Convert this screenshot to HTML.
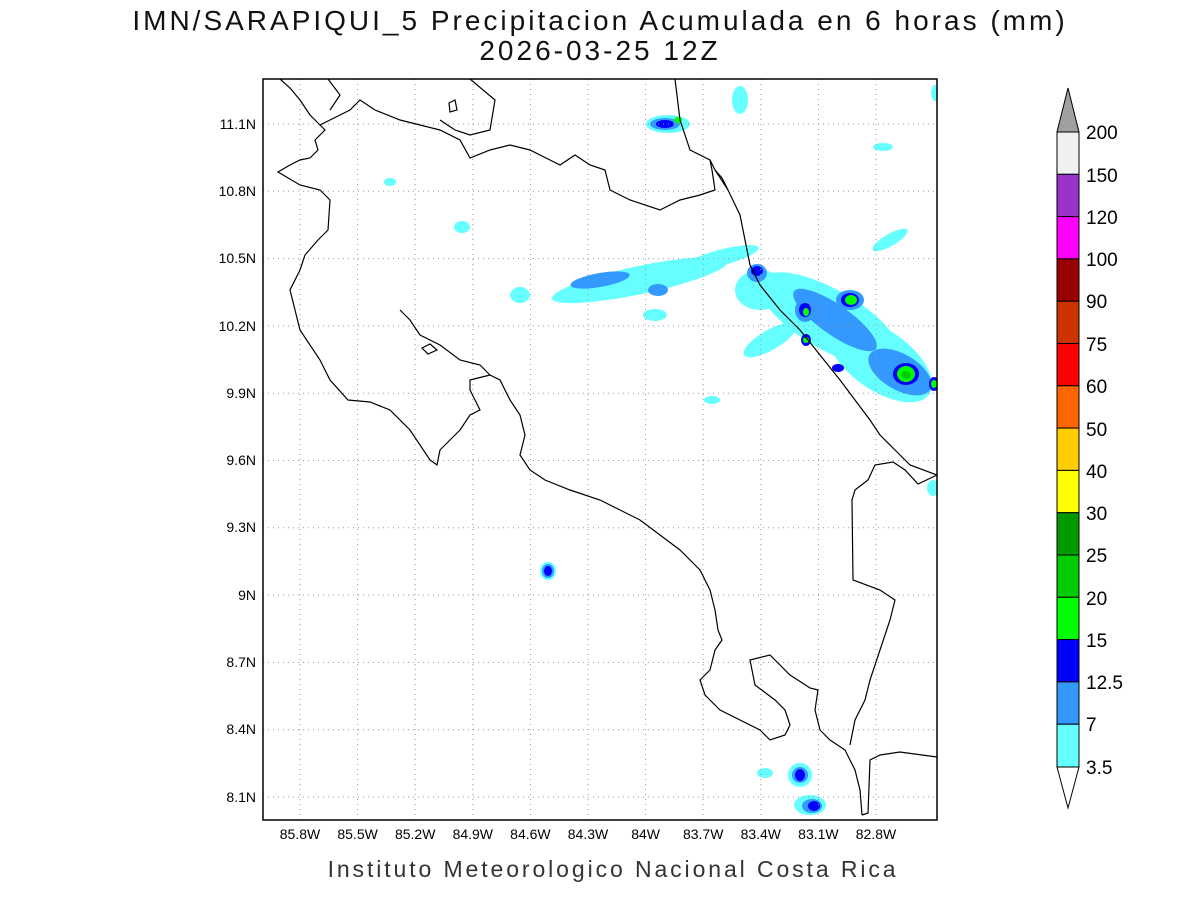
<!DOCTYPE html>
<html><head><meta charset="utf-8"><style>
body{margin:0;background:#fff}
svg text{font-family:"Liberation Sans",sans-serif}
</style></head><body>
<svg width="1200" height="900" viewBox="0 0 1200 900" xmlns="http://www.w3.org/2000/svg">
<rect width="1200" height="900" fill="#fff"/>
<text x="600" y="30" font-size="28" text-anchor="middle" letter-spacing="3" fill="#111">IMN/SARAPIQUI_5 Precipitacion Acumulada en 6 horas (mm)</text>
<text x="600" y="60" font-size="28" text-anchor="middle" letter-spacing="3" fill="#111">2026-03-25 12Z</text>
<defs><clipPath id="c"><rect x="263" y="79" width="674" height="741"/></clipPath></defs>
<g clip-path="url(#c)">
<g fill="#66ffff">
<ellipse cx="640" cy="280" rx="90" ry="14" transform="rotate(-12 640 280)"/>
<ellipse cx="720" cy="258" rx="40" ry="8" transform="rotate(-15 720 258)"/>
<ellipse cx="668" cy="124" rx="22" ry="9"/>
<ellipse cx="740" cy="100" rx="8" ry="14"/>
<ellipse cx="830" cy="320" rx="80" ry="30" transform="rotate(30 830 320)"/>
<ellipse cx="880" cy="360" rx="60" ry="30" transform="rotate(35 880 360)"/>
<ellipse cx="760" cy="290" rx="25" ry="20"/>
<ellipse cx="770" cy="340" rx="30" ry="10" transform="rotate(-30 770 340)"/>
<ellipse cx="890" cy="240" rx="20" ry="6" transform="rotate(-30 890 240)"/>
<ellipse cx="655" cy="315" rx="12" ry="6"/>
<ellipse cx="520" cy="295" rx="10" ry="8"/>
<ellipse cx="548" cy="571" rx="8" ry="9"/>
<ellipse cx="800" cy="775" rx="12" ry="12"/>
<ellipse cx="810" cy="805" rx="16" ry="10"/>
<ellipse cx="765" cy="773" rx="8" ry="5"/>
<ellipse cx="933" cy="488" rx="6" ry="8"/>
<ellipse cx="462" cy="227" rx="8" ry="6"/>
<ellipse cx="883" cy="147" rx="10" ry="4"/>
<ellipse cx="712" cy="400" rx="8" ry="4"/>
<ellipse cx="935" cy="93" rx="4" ry="8"/>
<ellipse cx="390" cy="182" rx="6" ry="4"/>
</g>
<g fill="#3399ff">
<ellipse cx="600" cy="280" rx="30" ry="7" transform="rotate(-10 600 280)"/>
<ellipse cx="665" cy="124" rx="15" ry="6"/>
<ellipse cx="757" cy="273" rx="10" ry="9"/>
<ellipse cx="835" cy="320" rx="50" ry="15" transform="rotate(35 835 320)"/>
<ellipse cx="900" cy="372" rx="35" ry="18" transform="rotate(30 900 372)"/>
<ellipse cx="805" cy="310" rx="10" ry="12"/>
<ellipse cx="850" cy="300" rx="14" ry="10"/>
<ellipse cx="548" cy="571" rx="6" ry="7"/>
<ellipse cx="800" cy="775" rx="8" ry="8"/>
<ellipse cx="812" cy="806" rx="10" ry="7"/>
<ellipse cx="658" cy="290" rx="10" ry="6"/>
</g>
<g fill="#0000ff">
<ellipse cx="665" cy="124" rx="9" ry="4"/>
<ellipse cx="757" cy="271" rx="6" ry="5"/>
<ellipse cx="805" cy="310" rx="6" ry="7"/>
<ellipse cx="850" cy="300" rx="9" ry="7"/>
<ellipse cx="806" cy="340" rx="5" ry="6"/>
<ellipse cx="906" cy="374" rx="13" ry="11"/>
<ellipse cx="934" cy="384" rx="5" ry="7"/>
<ellipse cx="838" cy="368" rx="6" ry="4"/>
<ellipse cx="548" cy="571" rx="4" ry="5"/>
<ellipse cx="800" cy="775" rx="5" ry="6"/>
<ellipse cx="814" cy="806" rx="6" ry="5"/>
</g>
<g fill="#00ff00">
<ellipse cx="678" cy="120" rx="4" ry="3"/>
<ellipse cx="851" cy="300" rx="6" ry="5"/>
<ellipse cx="806" cy="312" rx="3" ry="4"/>
<ellipse cx="906" cy="374" rx="9" ry="8"/>
<ellipse cx="806" cy="340" rx="3" ry="3"/>
<ellipse cx="934" cy="384" rx="3" ry="4"/>
</g>
<g fill="#00cc00"><ellipse cx="906" cy="375" rx="5" ry="4"/></g>
<g stroke="#999" stroke-width="1" stroke-dasharray="1,4">
<path d="M300,79V820M357.6,79V820M415.2,79V820M472.8,79V820M530.4,79V820M588,79V820M645.6,79V820M703.2,79V820M760.8,79V820M818.4,79V820M876,79V820"/>
<path d="M263,124H937M263,191.3H937M263,258.6H937M263,325.9H937M263,393.2H937M263,460.5H937M263,527.8H937M263,595.1H937M263,662.4H937M263,729.7H937M263,797H937"/>
</g>
<g fill="none" stroke="#000" stroke-width="1.2">
<path d="M280,79L290,88L300,100L310,115L320,125L325,130L320,135L315,140L318,150L310,158L300,160L290,165L278,172L300,185L320,190L330,200L328,230L318,240L305,255L300,270L290,290L295,310L300,330L320,360L330,380L348,400L370,402L390,410L410,430L430,460L437,465L440,450L460,430L470,415L480,410L470,390L470,380L490,375L480,365L460,360L440,345L420,335L410,320L400,310"/>
<path d="M490,375L500,380L510,400L520,415L525,435L520,455L530,470L545,480L570,490L600,500L620,510L640,520L660,535L680,550L700,570L710,590L715,610L718,630L722,640L715,650L710,670L700,680L705,695L720,710L740,720L760,730L770,740L785,735L790,725L785,710L775,700L755,685L750,660L770,655L790,675L810,688L818,690L815,710L820,730L830,740L845,750L855,770L860,790L862,815"/>
<path d="M862,815L868,813L870,760L880,755L900,752L937,757"/>
<path d="M937,475L918,484L905,470L893,462L875,465L868,480L855,490L852,500L853,580L880,590L895,600L890,620L880,650L870,680L865,700L855,720L850,745"/>
<path d="M675,79L680,120L690,150L710,160L715,170L728,190L740,215L745,240L750,265L760,285L780,310L800,330L820,355L840,380L855,400L870,420L880,435L895,450L910,465L937,475"/>
<path d="M320,125L330,120L350,110L360,100L375,110L400,120L420,125L440,130L460,140L470,158L490,150L510,145L530,150L550,160L560,165L575,155L590,165L605,170L610,190L630,200L660,210L680,200L700,195L715,190L712,170L710,160"/>
<path d="M328,79L340,95L330,110"/>
<path d="M470,79L495,100L490,130L470,135L455,130L440,120"/>
<path d="M715,170L722,178L728,190"/>
<path d="M449,103L455,100L457,110L450,112Z"/>
<path d="M422,348L430,344L437,350L428,354Z"/>
</g>
</g>
<rect x="263" y="79" width="674" height="741" fill="none" stroke="#000" stroke-width="1.5"/>
<g font-size="14" fill="#000" text-anchor="end">
<text x="256" y="129">11.1N</text><text x="256" y="196">10.8N</text><text x="256" y="263">10.5N</text><text x="256" y="331">10.2N</text><text x="256" y="398">9.9N</text><text x="256" y="465">9.6N</text><text x="256" y="532">9.3N</text><text x="256" y="600">9N</text><text x="256" y="667">8.7N</text><text x="256" y="734">8.4N</text><text x="256" y="802">8.1N</text>
</g>
<g font-size="14" fill="#000" text-anchor="middle">
<text x="300" y="839">85.8W</text><text x="357.6" y="839">85.5W</text><text x="415.2" y="839">85.2W</text><text x="472.8" y="839">84.9W</text><text x="530.4" y="839">84.6W</text><text x="588" y="839">84.3W</text><text x="645.6" y="839">84W</text><text x="703.2" y="839">83.7W</text><text x="760.8" y="839">83.4W</text><text x="818.4" y="839">83.1W</text><text x="876" y="839">82.8W</text>
</g>
<text x="613" y="877" font-size="23" text-anchor="middle" letter-spacing="2.9" fill="#333">Instituto Meteorologico Nacional Costa Rica</text>
<g stroke="#000" stroke-width="1">
<path d="M1057,132L1068,88L1079,132Z" fill="#a0a0a0"/>
<rect x="1057" y="132" width="22" height="42.3" fill="#f0f0f0"/>
<rect x="1057" y="174.3" width="22" height="42.3" fill="#9933cc"/>
<rect x="1057" y="216.6" width="22" height="42.3" fill="#ff00ff"/>
<rect x="1057" y="258.9" width="22" height="42.3" fill="#990000"/>
<rect x="1057" y="301.2" width="22" height="42.3" fill="#cc3300"/>
<rect x="1057" y="343.5" width="22" height="42.3" fill="#ff0000"/>
<rect x="1057" y="385.8" width="22" height="42.3" fill="#ff6600"/>
<rect x="1057" y="428.1" width="22" height="42.3" fill="#ffcc00"/>
<rect x="1057" y="470.4" width="22" height="42.3" fill="#ffff00"/>
<rect x="1057" y="512.7" width="22" height="42.3" fill="#009900"/>
<rect x="1057" y="555" width="22" height="42.3" fill="#00cc00"/>
<rect x="1057" y="597.3" width="22" height="42.3" fill="#00ff00"/>
<rect x="1057" y="639.6" width="22" height="42.3" fill="#0000ff"/>
<rect x="1057" y="681.9" width="22" height="42.3" fill="#3399ff"/>
<rect x="1057" y="724.2" width="22" height="42.8" fill="#66ffff"/>
<path d="M1057,767L1068,808L1079,767Z" fill="#fff"/>
</g>
<g font-size="19" fill="#000">
<text x="1086" y="139">200</text><text x="1086" y="182">150</text><text x="1086" y="224">120</text><text x="1086" y="266">100</text><text x="1086" y="308">90</text><text x="1086" y="351">75</text><text x="1086" y="393">60</text><text x="1086" y="436">50</text><text x="1086" y="478">40</text><text x="1086" y="520">30</text><text x="1086" y="562">25</text><text x="1086" y="605">20</text><text x="1086" y="647">15</text><text x="1086" y="689">12.5</text><text x="1086" y="731">7</text><text x="1086" y="774">3.5</text>
</g>
</svg>
</body></html>
